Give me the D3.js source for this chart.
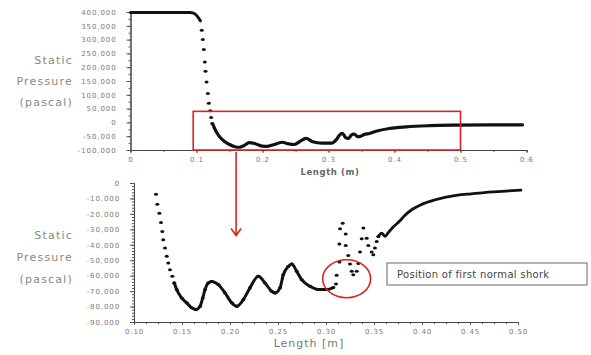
<!DOCTYPE html>
<html>
<head>
  <meta charset="utf-8">
  <script src="https://d3js.org/d3.v7.min.js"></script>
  <style>
    body { margin: 0; background: #fff; }
    * { font-family: "DejaVu Sans", sans-serif; }
    .tick text { fill: #777; font-size: 7px; letter-spacing: 0.9px; }
    .tick line { stroke: #555; }
    .domain { stroke: #444; }
    .ylab { fill: #888; font-size: 11px; letter-spacing: 1.2px; text-anchor: end; }
  </style>
</head>
<body>
<script>
  // top chart: full duct
  const topFlatLen  = [0, 0.03, 0.06, 0.09, 0.0955, 0.0995, 0.106];
  const topFlatPres = [398000, 398000, 398000, 398000, 396000, 389000, 368000];
  const topDropLen  = [0.108, 0.1096, 0.1111, 0.1126, 0.1136, 0.1152, 0.1172, 0.1187, 0.1207, 0.1222, 0.1238];
  const topDropPres = [334000, 300000, 264000, 219000, 185000, 146000, 105000, 69000, 42000, 18000, -4000];
  const topTailLen  = [0.1247, 0.128, 0.132, 0.136, 0.142, 0.150, 0.158, 0.165, 0.172, 0.180, 0.190, 0.200, 0.207,
                       0.215, 0.230, 0.240, 0.248, 0.256, 0.266, 0.276, 0.290, 0.305, 0.312, 0.317, 0.321, 0.326,
                       0.330, 0.335, 0.339, 0.344, 0.349, 0.354, 0.362, 0.372, 0.392, 0.418, 0.453, 0.493, 0.544, 0.594];
  const topTailPres = [-6000, -25000, -42000, -55000, -68000, -80000, -88000, -90000, -84000, -73000, -78000, -86000, -87000,
                       -82000, -72000, -78000, -80000, -70000, -58000, -70000, -75000, -75000, -62000, -45000, -40000, -55000,
                       -58000, -45000, -42000, -52000, -50000, -44000, -40000, -32000, -22000, -16000, -12000, -10000, -9000, -9000];

  // bottom chart: zoom 0.10 - 0.50 m
  const botDropLen  = [0.1229, 0.1243, 0.1264, 0.1281, 0.1295, 0.1305, 0.1323, 0.1341, 0.1357, 0.1375, 0.1399, 0.142];
  const botDropPres = [-7300, -13700, -19600, -25600, -31400, -36800, -42100, -47500, -51800, -56100, -60400, -64700];
  const botWaveLen  = [0.142, 0.1445, 0.1497, 0.1549, 0.1601, 0.1646, 0.1688, 0.1716, 0.174, 0.1774, 0.1809, 0.1878, 0.1948,
                       0.2018, 0.207, 0.2139, 0.2208, 0.2295, 0.2365, 0.2434, 0.2469, 0.2521, 0.2555, 0.2607, 0.2643,
                       0.2695, 0.2747, 0.2833, 0.292, 0.3007, 0.3076];
  const botWavePres = [-64700, -69000, -74400, -77600, -80800, -81900, -79800, -74400, -69000, -64700, -63700, -65800, -71200,
                       -77600, -79800, -75500, -67900, -60400, -64700, -70100, -71200, -67900, -59400, -54000, -52500,
                       -57200, -62600, -66900, -69000, -69000, -67700];
  const botShockLen  = [0.3104, 0.3111, 0.3139, 0.3232, 0.3139, 0.3205, 0.3146, 0.3174, 0.325, 0.3336, 0.3268, 0.3284,
                        0.332, 0.3205, 0.3354, 0.3372, 0.3389, 0.3424, 0.3441, 0.3476, 0.3493, 0.351, 0.3528, 0.3545];
  const botShockPres = [-65400, -59800, -51200, -46900, -39500, -40500, -29700, -26000, -52500, -52100, -57200, -59400,
                        -57200, -33100, -44700, -36100, -29200, -35700, -40500, -44700, -46500, -42100, -37900, -34600];
  const botTailLen  = [0.3545, 0.358, 0.3615, 0.365, 0.370, 0.377, 0.381, 0.390, 0.399, 0.413, 0.425, 0.437, 0.451, 0.465, 0.479, 0.503];
  const botTailPres = [-34600, -32500, -34600, -32000, -28500, -24500, -21700, -17000, -14000, -11000, -9200, -7900, -7000, -6200, -5600, -4600];

  const topXTicks = [0, 0.1, 0.2, 0.3, 0.4, 0.5, 0.6];
  const topYTicks = [400000, 350000, 300000, 250000, 200000, 150000, 100000, 50000, 0, -50000, -100000];
  const botXTicks = [0.10, 0.15, 0.20, 0.25, 0.30, 0.35, 0.40, 0.45, 0.50];
  const botYTicks = [0, -10000, -20000, -30000, -40000, -50000, -60000, -70000, -80000, -90000];
  const yTitle = ["Static", "Pressure", "(pascal)"];

  const W = 591, H = 355;
  const svg = d3.select("body").append("svg").attr("width", W).attr("height", H);
  const red = "#dd2222";
  const fmt = d => d3.format(",")(d).replace("\u2212", "-");
  const zip = (a, b) => a.map((v, i) => [v, b[i]]);

  // scales
  const xT = d3.scaleLinear().domain([0, 0.6]).range([130.5, 526.5]);
  const yT = d3.scaleLinear().domain([-100000, 400000]).range([150, 12]);
  const xB = d3.scaleLinear().domain([0.1, 0.5]).range([134, 518]);
  const yB = d3.scaleLinear().domain([-90000, 0]).range([322, 183]);

  function axes(x, y, xt, yt, xminor, yminor, xf) {
    svg.append("g").attr("transform", `translate(0,${y.range()[0]})`)
      .call(d3.axisBottom(x).tickValues(xminor).tickSize(2).tickFormat(""));
    svg.append("g").attr("transform", `translate(${x.range()[0]},0)`)
      .call(d3.axisLeft(y).tickValues(yminor).tickSize(2).tickFormat(""));
    svg.append("g").attr("transform", `translate(0,${y.range()[0]})`)
      .call(d3.axisBottom(x).tickValues(xt).tickSize(3).tickPadding(4).tickSizeOuter(0).tickFormat(xf));
    svg.append("g").attr("transform", `translate(${x.range()[0]},0)`)
      .call(d3.axisLeft(y).tickValues(yt).tickSize(4).tickPadding(10).tickSizeOuter(0).tickFormat(fmt));
  }
  axes(xT, yT, topXTicks, topYTicks, d3.range(0, 0.6001, 0.05), d3.range(-100000, 400001, 25000), d3.format(""));
  axes(xB, yB, botXTicks, botYTicks, d3.range(0.1, 0.5001, 0.0125), d3.range(-90000, 1, 2000), d3.format(".2f"));

  // y titles
  yTitle.forEach((t, i) => {
    svg.append("text").attr("class", "ylab").attr("x", 73).attr("y", 64 + i * 21).text(t);
    svg.append("text").attr("class", "ylab").attr("x", 73).attr("y", 239 + i * 22).text(t);
  });
  svg.append("text").attr("x", 330).attr("y", 175).attr("text-anchor", "middle")
    .style("font-size", "8.5px").style("font-weight", "bold").style("fill", "#666").style("letter-spacing", "0.6px")
    .text("Length (m)");
  svg.append("text").attr("x", 309).attr("y", 347).attr("text-anchor", "middle")
    .style("font-size", "11px").style("fill", "#777").style("letter-spacing", "1px")
    .text("Length [m]");

  // series
  function drawLine(x, y, pts, w) {
    svg.append("path").datum(pts)
      .attr("d", d3.line().x(d => x(d[0])).y(d => y(d[1])).curve(d3.curveMonotoneX))
      .attr("fill", "none").attr("stroke", "#111").attr("stroke-width", w)
      .attr("stroke-linejoin", "round").attr("stroke-linecap", "round");
  }
  function drawDots(x, y, pts) {
    svg.append("g").selectAll("ellipse").data(pts).join("ellipse")
      .attr("cx", d => x(d[0])).attr("cy", d => y(d[1]))
      .attr("rx", 2).attr("ry", 1.5).attr("fill", "#111");
  }

  drawLine(xT, yT, zip(topFlatLen, topFlatPres), 3);
  drawDots(xT, yT, zip(topDropLen, topDropPres));
  drawLine(xT, yT, zip(topTailLen, topTailPres), 3.2);

  drawDots(xB, yB, zip(botDropLen, botDropPres));
  drawLine(xB, yB, zip(botWaveLen, botWavePres), 3);
  drawDots(xB, yB, zip(botWaveLen, botWavePres));
  drawDots(xB, yB, zip(botShockLen, botShockPres));
  drawLine(xB, yB, zip(botTailLen, botTailPres), 2.8);

  // annotations
  svg.append("rect")
    .attr("x", xT(0.095)).attr("y", yT(40000))
    .attr("width", xT(0.5) - xT(0.095)).attr("height", yT(-100000) - yT(40000))
    .attr("fill", "none").attr("stroke", red).attr("stroke-width", 1.6);

  const ax = xT(0.16), ay0 = yT(-100000) + 2, ay1 = yB(-34000);
  svg.append("line").attr("x1", ax).attr("x2", ax).attr("y1", ay0).attr("y2", ay1)
    .attr("stroke", red).attr("stroke-width", 1.6);
  svg.append("polyline").attr("points", `${ax - 5},${ay1 - 7} ${ax},${ay1} ${ax + 5},${ay1 - 7}`)
    .attr("fill", "none").attr("stroke", red).attr("stroke-width", 1.6);

  svg.append("ellipse").attr("cx", xB(0.3215)).attr("cy", yB(-62000))
    .attr("rx", 24).attr("ry", 19)
    .attr("fill", "none").attr("stroke", red).attr("stroke-width", 1.6);

  svg.append("rect").attr("x", 387).attr("y", 263).attr("width", 200).attr("height", 22)
    .attr("fill", "none").attr("stroke", "#666").attr("stroke-width", 1);
  svg.append("text").attr("x", 397).attr("y", 278)
    .style("font-size", "10px").style("fill", "#444").style("letter-spacing", "0.3px")
    .text("Position of first normal shork");
</script>
</body>
</html>
